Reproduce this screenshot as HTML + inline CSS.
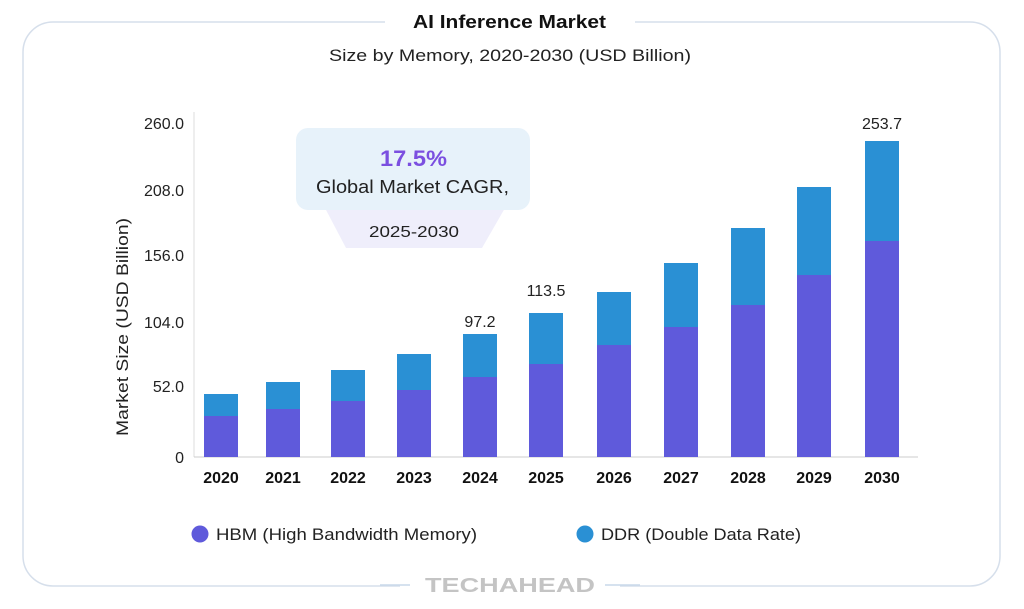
<!DOCTYPE html>
<html><head><meta charset="utf-8"><style>
html,body{margin:0;padding:0;background:#fff;}
svg{display:block;font-family:"Liberation Sans",sans-serif;}
</style></head><body>
<svg width="1024" height="609" viewBox="0 0 1024 609" xmlns="http://www.w3.org/2000/svg">
<rect x="23" y="22" width="977" height="564" rx="30" fill="none" stroke="#d6dfeb" stroke-width="1.5"/>
<rect x="385" y="10" width="250" height="26" fill="#fff"/>
<rect x="400" y="574" width="220" height="26" fill="#fff"/>
<line x1="380" y1="585" x2="410" y2="585" stroke="#c9d8ea" stroke-width="1.5"/>
<line x1="605" y1="585" x2="640" y2="585" stroke="#c9d8ea" stroke-width="1.5"/>
<text x="413" y="28" textLength="193" lengthAdjust="spacingAndGlyphs" font-size="18" font-weight="bold" fill="#111">AI Inference Market</text>
<text x="329" y="61" textLength="362" lengthAdjust="spacingAndGlyphs" font-size="17" fill="#222">Size by Memory, 2020-2030 (USD Billion)</text>
<text x="425" y="592" textLength="170" lengthAdjust="spacingAndGlyphs" font-size="20" font-weight="bold" fill="#c4c4c4">TECHAHEAD</text>
<!-- axis -->
<line x1="194" y1="112" x2="194" y2="457" stroke="#ddd" stroke-width="1"/>
<line x1="194" y1="457" x2="918" y2="457" stroke="#ccc" stroke-width="1"/>
<g font-size="16" fill="#222" text-anchor="end">
<text x="184" y="129">260.0</text>
<text x="184" y="196">208.0</text>
<text x="184" y="261">156.0</text>
<text x="184" y="328">104.0</text>
<text x="184" y="392">52.0</text>
<text x="184" y="463">0</text>
</g>
<text transform="translate(128,436) rotate(-90)" textLength="218" lengthAdjust="spacingAndGlyphs" font-size="17" fill="#222">Market Size (USD Billion)</text>
<!-- callout -->
<polygon points="325,208 505,208 482,248 346,248" fill="#efeefb"/>
<rect x="296" y="128" width="234" height="82" rx="12" fill="#e7f2fa"/>
<text x="380" y="166" textLength="67" lengthAdjust="spacingAndGlyphs" font-size="22" font-weight="bold" fill="#7b4fe0">17.5%</text>
<text x="316" y="193" textLength="193" lengthAdjust="spacingAndGlyphs" font-size="18" fill="#222">Global Market CAGR,</text>
<text x="369" y="237" textLength="90" lengthAdjust="spacingAndGlyphs" font-size="16" fill="#222">2025-2030</text>
<!-- bars -->
<g fill="#2a90d4">
<rect x="204" y="394" width="34" height="63"/>
<rect x="266" y="382" width="34" height="75"/>
<rect x="331" y="370" width="34" height="87"/>
<rect x="397" y="354" width="34" height="103"/>
<rect x="463" y="334" width="34" height="123"/>
<rect x="529" y="313" width="34" height="144"/>
<rect x="597" y="292" width="34" height="165"/>
<rect x="664" y="263" width="34" height="194"/>
<rect x="731" y="228" width="34" height="229"/>
<rect x="797" y="187" width="34" height="270"/>
<rect x="865" y="141" width="34" height="316"/>
</g>
<g fill="#5f5adb">
<rect x="204" y="416" width="34" height="41"/>
<rect x="266" y="409" width="34" height="48"/>
<rect x="331" y="401" width="34" height="56"/>
<rect x="397" y="390" width="34" height="67"/>
<rect x="463" y="377" width="34" height="80"/>
<rect x="529" y="364" width="34" height="93"/>
<rect x="597" y="345" width="34" height="112"/>
<rect x="664" y="327" width="34" height="130"/>
<rect x="731" y="305" width="34" height="152"/>
<rect x="797" y="275" width="34" height="182"/>
<rect x="865" y="241" width="34" height="216"/>
</g>
<g font-size="16" fill="#222" text-anchor="middle">
<text x="480" y="327">97.2</text>
<text x="546" y="296">113.5</text>
<text x="882" y="129">253.7</text>
</g>
<g font-size="16" font-weight="bold" fill="#111" text-anchor="middle">
<text x="221" y="483">2020</text><text x="283" y="483">2021</text><text x="348" y="483">2022</text>
<text x="414" y="483">2023</text><text x="480" y="483">2024</text><text x="546" y="483">2025</text>
<text x="614" y="483">2026</text><text x="681" y="483">2027</text><text x="748" y="483">2028</text>
<text x="814" y="483">2029</text><text x="882" y="483">2030</text>
</g>
<circle cx="200" cy="534" r="8.5" fill="#5f5adb"/>
<text x="216" y="540" textLength="261" lengthAdjust="spacingAndGlyphs" font-size="17" fill="#222">HBM (High Bandwidth Memory)</text>
<circle cx="585" cy="534" r="8.5" fill="#2a90d4"/>
<text x="601" y="540" textLength="200" lengthAdjust="spacingAndGlyphs" font-size="17" fill="#222">DDR (Double Data Rate)</text>
</svg>
</body></html>
